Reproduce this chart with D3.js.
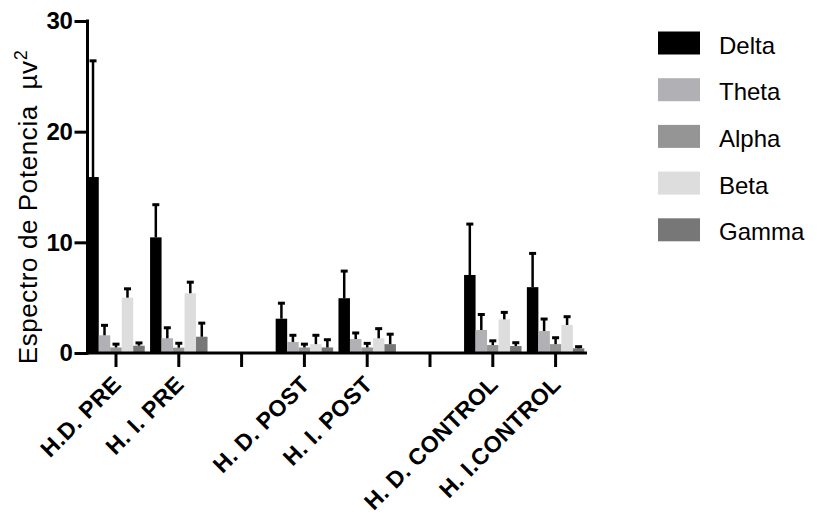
<!DOCTYPE html>
<html>
<head>
<meta charset="utf-8">
<script src="https://cdn.jsdelivr.net/npm/d3@7"></script>
<style>
  html, body { margin: 0; padding: 0; background: #fff; }
  svg { display: block; }
  text { font-family: "Liberation Sans", Arial, Helvetica, sans-serif; fill: #000; }
</style>
</head>
<body>
<svg id="chart" width="817" height="519"></svg>
<script>
// Axis slots: six recording groups with two empty spacer slots between blocks
const slots = ["H.D. PRE", "H. I. PRE", "gap-1", "H. D. POST", "H. I. POST", "gap-2", "H. D. CONTROL", "H. I.CONTROL"];
const groups = ["H.D. PRE", "H. I. PRE", "H. D. POST", "H. I. POST", "H. D. CONTROL", "H. I.CONTROL"];

// Frequency bands
const bands = ["Delta", "Theta", "Alpha", "Beta", "Gamma"];
const bandColors = ["#000000", "#b1b1b5", "#959595", "#dddddd", "#777777"];

// Mean power per group (µv²) and upper error (SEM) for each band
const delta    = [15.9, 10.45, 3.1, 4.95, 7.05, 5.95];
const deltaErr = [10.5, 2.95, 1.4, 2.45, 4.6, 3.05];
const theta    = [1.6, 1.33, 1.0, 1.26, 2.08, 1.99];
const thetaErr = [0.9, 0.95, 0.6, 0.55, 1.4, 1.08];
const alpha    = [0.5, 0.48, 0.5, 0.5, 0.72, 0.8];
const alphaErr = [0.3, 0.4, 0.3, 0.37, 0.38, 0.58];
const beta     = [5.0, 5.4, 0.8, 1.33, 3.04, 2.53];
const betaErr  = [0.8, 1.0, 0.8, 0.87, 0.63, 0.75];
const gamma    = [0.66, 1.47, 0.5, 0.8, 0.63, 0.42];
const gammaErr = [0.25, 1.23, 0.7, 0.9, 0.3, 0.15];

const yTicks = [0, 10, 20, 30];

const means = [delta, theta, alpha, beta, gamma];
const errs = [deltaErr, thetaErr, alphaErr, betaErr, gammaErr];

// Flatten into one record per bar
const rows = [];
groups.forEach((g, gi) => {
  bands.forEach((b, bi) => {
    rows.push({ group: g, band: b, value: means[bi][gi], err: errs[bi][gi] });
  });
});

const svg = d3.select("#chart");

const x = d3.scaleBand().domain(slots).range([84.6, 587]).paddingInner(0.085).paddingOuter(0.0425);
const xi = d3.scaleBand().domain(bands).range([0, x.bandwidth()]);
const y = d3.scaleLinear().domain([0, 30]).range([353, 21]);
const color = d3.scaleOrdinal().domain(bands).range(bandColors);

// Bars
const plot = svg.append("g");
plot.selectAll("rect.bar")
  .data(rows)
  .join("rect")
  .attr("class", "bar")
  .attr("x", d => x(d.group) + xi(d.band))
  .attr("y", d => y(d.value))
  .attr("width", xi.bandwidth())
  .attr("height", d => y(0) - y(d.value))
  .attr("fill", d => color(d.band));

// Upper error bars with caps
const eb = plot.selectAll("g.err").data(rows).join("g").attr("class", "err");
eb.append("line")
  .attr("x1", d => x(d.group) + xi(d.band) + xi.bandwidth() / 2)
  .attr("x2", d => x(d.group) + xi(d.band) + xi.bandwidth() / 2)
  .attr("y1", d => y(d.value))
  .attr("y2", d => y(d.value + d.err))
  .attr("stroke", "#000").attr("stroke-width", 2.5);
eb.append("line")
  .attr("x1", d => x(d.group) + xi(d.band) + xi.bandwidth() / 2 - 3.5)
  .attr("x2", d => x(d.group) + xi(d.band) + xi.bandwidth() / 2 + 3.5)
  .attr("y1", d => y(d.value + d.err))
  .attr("y2", d => y(d.value + d.err))
  .attr("stroke", "#000").attr("stroke-width", 3);

// Y axis
const yAxis = svg.append("g")
  .attr("transform", "translate(87.5,0)")
  .call(d3.axisLeft(y).tickValues(yTicks).tickSize(13).tickPadding(2).tickFormat(d3.format("d")));
yAxis.select(".domain").attr("d", `M0,${y(30) - 1.5}V${y(0) + 1.5}`).attr("stroke", "#000").attr("stroke-width", 3);
yAxis.selectAll(".tick line").attr("stroke", "#000").attr("stroke-width", 3);
yAxis.selectAll(".tick text")
  .style("font-family", "'Liberation Sans', Arial, sans-serif")
  .style("font-size", "24px").style("font-weight", "bold").attr("fill", "#000")
  .attr("letter-spacing", "-0.3px");

// X axis
const xAxis = svg.append("g")
  .attr("transform", `translate(0,${y(0)})`)
  .call(d3.axisBottom(x).tickSize(14).tickFormat(d => d.startsWith("gap") ? "" : d));
xAxis.select(".domain").attr("d", "M86,0H587").attr("stroke", "#000").attr("stroke-width", 3);
xAxis.selectAll(".tick line").attr("stroke", "#000").attr("stroke-width", 3);
xAxis.selectAll(".tick text")
  .style("font-family", "'Liberation Sans', Arial, sans-serif")
  .style("font-size", "23px").style("font-weight", "bold").attr("fill", "#000")
  .attr("letter-spacing", "0.4px")
  .attr("text-anchor", "end")
  .attr("dominant-baseline", "central")
  .attr("dy", null)
  .attr("y", 0)
  .attr("transform", "translate(1,27) rotate(-45)");

// Y axis title
svg.append("text")
  .attr("transform", "translate(37,207) rotate(-90)")
  .attr("text-anchor", "middle")
  .attr("letter-spacing", "0.6px")
  .style("font-size", "26px")
  .text("Espectro de Potencia\u00a0\u00a0µv")
  .append("tspan")
  .attr("dy", "-0.55em")
  .style("font-size", "18px")
  .text("2");

// Legend
const legend = svg.append("g");
const li = legend.selectAll("g").data(bands).join("g")
  .attr("transform", (d, i) => `translate(658,${31.5 + i * 46.7})`);
li.append("rect").attr("width", 42).attr("height", 23).attr("fill", d => color(d));
li.append("text").attr("x", 61).attr("y", 22).style("font-size", "24px").text(d => d);
</script>
</body>
</html>
